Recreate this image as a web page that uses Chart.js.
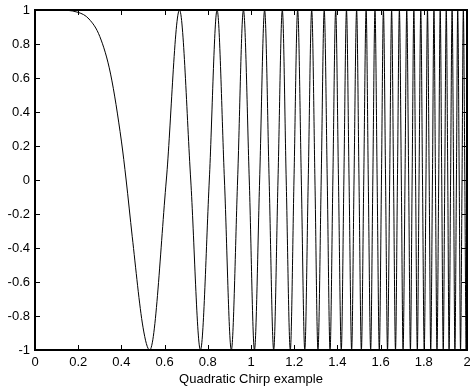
<!DOCTYPE html>
<html>
<head>
<meta charset="utf-8">
<script src="https://cdn.jsdelivr.net/npm/chart.js@4/dist/chart.umd.min.js"></script>
<style>
  html, body { margin: 0; padding: 0; background: #fff; }
  #wrap { width: 470px; height: 392px; }
</style>
</head>
<body>
<div id="wrap"><canvas id="chirp"></canvas></div>
<script>
// time samples: start of the flat top, then each
// zero crossing and peak/trough in turn
var timeValues = [
    0, 0.1, 0.2, 0.25, 0.3, 0.35, 0.4, 0.422, 0.45, 0.5, 0.531,
    0.608, 0.669, 0.721, 0.766, 0.807, 0.843, 0.877, 0.909, 0.938, 0.965,
    0.992, 1.016, 1.040, 1.063, 1.084, 1.105, 1.125, 1.145, 1.163, 1.182,
    1.199, 1.216, 1.233, 1.249, 1.265, 1.281, 1.296, 1.310, 1.325, 1.339,
    1.353, 1.366, 1.379, 1.392, 1.405, 1.418, 1.430, 1.442, 1.454, 1.466,
    1.477, 1.489, 1.500, 1.511, 1.522, 1.533, 1.543, 1.554, 1.564, 1.574,
    1.584, 1.594, 1.604, 1.613, 1.623, 1.632, 1.642, 1.651, 1.660, 1.669,
    1.678, 1.687, 1.696, 1.704, 1.713, 1.721, 1.730, 1.738, 1.746, 1.754,
    1.762, 1.770, 1.778, 1.786, 1.794, 1.802, 1.810, 1.817, 1.825, 1.832,
    1.840, 1.847, 1.854, 1.861, 1.869, 1.876, 1.883, 1.890, 1.897, 1.904,
    1.911, 1.917, 1.924, 1.931, 1.938, 1.944, 1.951, 1.957, 1.964, 1.970,
    1.977, 1.983, 1.990, 1.996, 2.0
];
var chirpValues = [
    1, 1, 0.986, 0.947, 0.844, 0.623, 0.229, 0, -0.331, -0.866, -1,
    0, 1, 0, -1, 0, 1, 0, -1, 0, 1,
    0, -1, 0, 1, 0, -1, 0, 1, 0, -1,
    0, 1, 0, -1, 0, 1, 0, -1, 0, 1,
    0, -1, 0, 1, 0, -1, 0, 1, 0, -1,
    0, 1, 0, -1, 0, 1, 0, -1, 0, 1,
    0, -1, 0, 1, 0, -1, 0, 1, 0, -1,
    0, 1, 0, -1, 0, 1, 0, -1, 0, 1,
    0, -1, 0, 1, 0, -1, 0, 1, 0, -1,
    0, 1, 0, -1, 0, 1, 0, -1, 0, 1,
    0, -1, 0, 1, 0, -1, 0, 1, 0, -1,
    0, 1, 0, -1, -0.5
];
var xTickStep = 0.2;
var yTickStep = 0.2;
var xLabel = 'Quadratic Chirp example';

var points = [];
for (var i = 0; i < timeValues.length; i++) {
    points.push({ x: timeValues[i], y: chirpValues[i] });
}

// matlab prints 1 not 1.0
function plainTick(v) {
    return String(Math.round(v * 10) / 10);
}

// matlab style box with inward ticks on every side
var boxTicks = {
    id: 'boxTicks',
    afterDraw: function(chart) {
        var ctx = chart.ctx;
        var a = chart.chartArea;
        var len = 5;
        ctx.save();
        ctx.strokeStyle = '#000';
        ctx.lineWidth = 1;
        ctx.beginPath();
        var xs = chart.scales.x;
        xs.ticks.forEach(function(t, i) {
            var px = Math.round(xs.getPixelForTick(i)) + 0.5;
            ctx.moveTo(px, a.bottom); ctx.lineTo(px, a.bottom - len);
            ctx.moveTo(px, a.top); ctx.lineTo(px, a.top + len);
        });
        var ys = chart.scales.y;
        ys.ticks.forEach(function(t, i) {
            var py = Math.round(ys.getPixelForTick(i)) + 0.5;
            ctx.moveTo(a.left, py); ctx.lineTo(a.left + len, py);
            ctx.moveTo(a.right, py); ctx.lineTo(a.right - len, py);
        });
        ctx.stroke();
        ctx.lineWidth = 2;
        ctx.strokeRect(Math.round(a.left), Math.round(a.top),
            Math.round(a.right - a.left), Math.round(a.bottom - a.top));
        ctx.restore();
    }
};

var font13 = { family: 'Liberation Sans, Arial, sans-serif', size: 13 };

new Chart(document.getElementById('chirp'), {
    type: 'line',
    data: {
        datasets: [{
            data: points,
            borderColor: '#000',
            borderWidth: 1,
            pointRadius: 0,
            cubicInterpolationMode: 'monotone',
            fill: false
        }]
    },
    options: {
        responsive: true,
        maintainAspectRatio: false,
        animation: false,
        layout: { padding: { top: 10, right: 3, left: 0, bottom: 5 } },
        plugins: {
            legend: { display: false },
            tooltip: { enabled: false }
        },
        scales: {
            x: {
                type: 'linear',
                min: 0,
                max: 2,
                grid: { display: false, drawTicks: false, tickLength: 0 },
                border: { display: false },
                ticks: {
                    stepSize: xTickStep,
                    color: '#000',
                    padding: 5,
                    maxRotation: 0,
                    autoSkip: false,
                    font: font13,
                    callback: plainTick
                },
                title: {
                    display: true,
                    text: xLabel,
                    color: '#000',
                    padding: { top: 0, bottom: 0 },
                    font: font13
                },
                afterFit: function(s) {
                    s.height = 37;
                    s.paddingLeft = 0;
                    s.paddingRight = 0;
                }
            },
            y: {
                min: -1,
                max: 1,
                grid: { display: false, drawTicks: false, tickLength: 0 },
                border: { display: false },
                ticks: {
                    stepSize: yTickStep,
                    color: '#000',
                    padding: 5,
                    autoSkip: false,
                    font: font13,
                    callback: plainTick
                },
                afterFit: function(s) {
                    s.width = 35;
                    s.paddingTop = 0;
                    s.paddingBottom = 0;
                }
            }
        }
    },
    plugins: [boxTicks]
});
</script>
</body>
</html>
